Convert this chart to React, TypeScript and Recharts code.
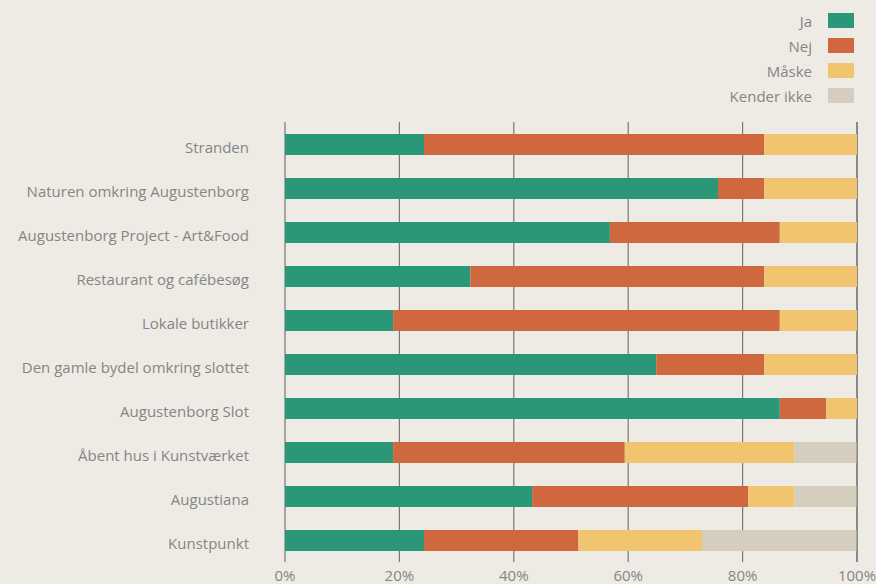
import React from 'react';
import { BarChart, Bar, XAxis, YAxis, CartesianGrid } from 'recharts';

const categories = [
  'Stranden',
  'Naturen omkring Augustenborg',
  'Augustenborg Project - Art&Food',
  'Restaurant og cafébesøg',
  'Lokale butikker',
  'Den gamle bydel omkring slottet',
  'Augustenborg Slot',
  'Åbent hus i Kunstværket',
  'Augustiana',
  'Kunstpunkt',
];

// shares in percent
const ja = [24.3, 75.7, 56.8, 32.4, 18.9, 64.9, 86.5, 18.9, 43.2, 24.3];
const nej = [59.5, 8.1, 29.7, 51.4, 67.6, 18.9, 8.1, 40.5, 37.8, 27.0];
const maaske = [16.2, 16.2, 13.5, 16.2, 13.5, 16.2, 5.4, 29.7, 8.1, 21.6];
const kenderIkke = [0, 0, 0, 0, 0, 0, 0, 10.8, 10.8, 27.0];

const xTicks = [0, 20, 40, 60, 80, 100];

const SERIES = [
  { key: 'ja', name: 'Ja', color: '#2a9878' },
  { key: 'nej', name: 'Nej', color: '#cf683f' },
  { key: 'maaske', name: 'Måske', color: '#f1c570' },
  { key: 'kender', name: 'Kender ikke', color: '#d5cebe' },
];

const data = categories.map((name, i) => ({
  name,
  ja: ja[i],
  nej: nej[i],
  maaske: maaske[i],
  kender: kenderIkke[i],
}));

const FONT = '"Open Sans", "Noto Sans", sans-serif';
const TEXT = '#858585';
const FS = 15;

const YTick = ({ y, payload }: any) => (
  <text x={249} y={y} dy={9} textAnchor="end" fill={TEXT} fontSize={FS} fontFamily={FONT}>
    {payload.value}
  </text>
);

const XTick = ({ x, payload }: any) => (
  <text x={x} y={581} textAnchor="middle" fill={TEXT} fontSize={FS} fontFamily={FONT}>
    {payload.value}%
  </text>
);

const LegendBox = () => (
  <div
    style={{
      position: 'absolute',
      top: 8,
      right: 22,
      fontFamily: FONT,
      fontSize: FS,
      color: TEXT,
    }}
  >
    {SERIES.map((s) => (
      <div key={s.key} style={{ display: 'flex', justifyContent: 'flex-end', alignItems: 'center', height: 25 }}>
        <span style={{ marginRight: 16 }}>{s.name}</span>
        <span style={{ display: 'inline-block', width: 26, height: 15, background: s.color }} />
      </div>
    ))}
  </div>
);

export default function App() {
  return (
    <div style={{ width: 876, height: 584, background: '#eeebe5', position: 'relative' }}>
      <style>{'body{margin:0}'}</style>
      <BarChart
        width={876}
        height={584}
        data={data}
        layout="vertical"
        margin={{ top: 122, right: 19, bottom: 0, left: 0 }}
        barSize={21}
      >
        <CartesianGrid vertical horizontal={false} stroke="#777" strokeWidth={1.2} />
        <XAxis
          type="number"
          domain={[0, 100]}
          ticks={xTicks}
          axisLine={false}
          tickLine={false}
          tick={<XTick />}
          height={22}
          interval={0}
        />
        <YAxis
          type="category"
          dataKey="name"
          width={285}
          axisLine={false}
          tickLine={false}
          tick={<YTick />}
          interval={0}
        />
        {SERIES.map((s) => (
          <Bar key={s.key} dataKey={s.key} name={s.name} stackId="a" fill={s.color} isAnimationActive={false} />
        ))}
      </BarChart>
      <LegendBox />
    </div>
  );
}
